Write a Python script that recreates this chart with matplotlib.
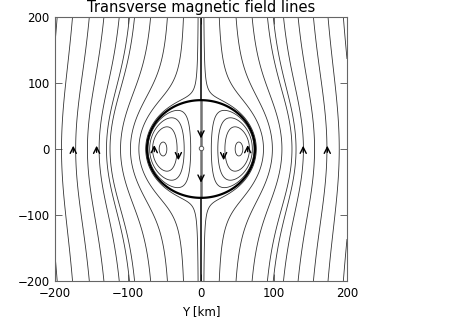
import numpy as np
import matplotlib.pyplot as plt

plt.rcParams['contour.negative_linestyle'] = 'solid'

# radius of the obstacle [km]
radius = 74.0

# where the outside field lines cross the top edge (y = 200 km)
top_left = [-197, -176, -153, -133, -112, -98, -91, -69, -46, -24, -4]
top_right = [195, 174, 154, 133, 113, 99, 91, 70, 48, 25, 4]

# normalised levels of the closed loops inside the obstacle
inner_levels = [0.14, 0.35, 0.63, 0.96]

# arrow heads: position [km] and direction (+1 up, -1 down)
arrow_x = [-175, -143, 140, 173, -64, -31, 31, 64, 0, 0]
arrow_y = [0, 0, 0, 0, 1, -12, -12, 1, 21, -46]
arrow_dir = [1, 1, 1, 1, 1, -1, -1, 1, -1, -1]

# small closed loop on the centre line
knot_x = [0]
knot_y = [1]

ticks = [-200, -100, 0, 100, 200]
tick_labels = ['\u2212200', '\u2212100', '0', '100', '200']


def psi_outside(x, y):
    r2 = x**2 + y**2
    return x * (1 - radius**2 / r2)


def psi_inside(x, y):
    r2 = x**2 + y**2
    return x * np.abs(x) * (radius**2 - r2) * 4 / radius**4


g = np.linspace(-200, 200, 1201)
X, Y = np.meshgrid(g, g)
R = np.sqrt(X**2 + Y**2)

out = np.where(R >= radius, psi_outside(X, Y), np.nan)
inn = np.where(R < radius, psi_inside(X, Y), np.nan)
mid = np.where(R < radius, X, np.nan)

lev_out = sorted(psi_outside(np.array(top_left + top_right, float), 200.0))
lev_in = sorted([-v for v in inner_levels] + inner_levels)

fig = plt.figure(figsize=(4.63, 3.31), dpi=100)
ax = fig.add_axes([55/463, 1 - 281/331, 292/463, 264/331])

lc = '0.2'
ax.contour(X, Y, out, levels=lev_out, colors=lc, linewidths=0.6)
ax.contour(X, Y, out, levels=[0], colors='black', linewidths=1.1)
ax.contour(X, Y, inn, levels=lev_in, colors=lc, linewidths=0.6)
ax.contour(X, Y, mid, levels=[0], colors='0.45', linewidths=1.8)
ax.contour(X, Y, R, levels=[radius], colors='black', linewidths=1.6)
ax.plot(knot_x, knot_y, 'o', ms=3.2, mfc='white', mec='0.35', mew=0.7)

for x, y, d in zip(arrow_x, arrow_y, arrow_dir):
    ax.annotate('', xy=(x, y + 5 * d), xytext=(x, y - 5 * d),
                arrowprops=dict(arrowstyle='->', color='black', lw=1.0,
                                mutation_scale=11, shrinkA=0, shrinkB=0))

ax.set_xlim(-200, 200)
ax.set_ylim(-200, 200)
ax.set_xticks(ticks)
ax.set_yticks(ticks)
ax.set_xticklabels(tick_labels)
ax.set_yticklabels(tick_labels)
ax.tick_params(direction='in', length=5, width=0.7, color='0.4',
               top=True, right=True, labelsize=8.5, pad=4)
for s in ax.spines.values():
    s.set_color('0.4')
    s.set_linewidth(0.8)

ax.set_xlabel('Y [km]', fontsize=8.5, labelpad=4)
fig.text((55 + 347) / 2 / 463, 1 - 12 / 331, 'Transverse magnetic field lines',
         ha='center', va='baseline', fontsize=10.5)

fig.savefig('out.png', dpi=100)
